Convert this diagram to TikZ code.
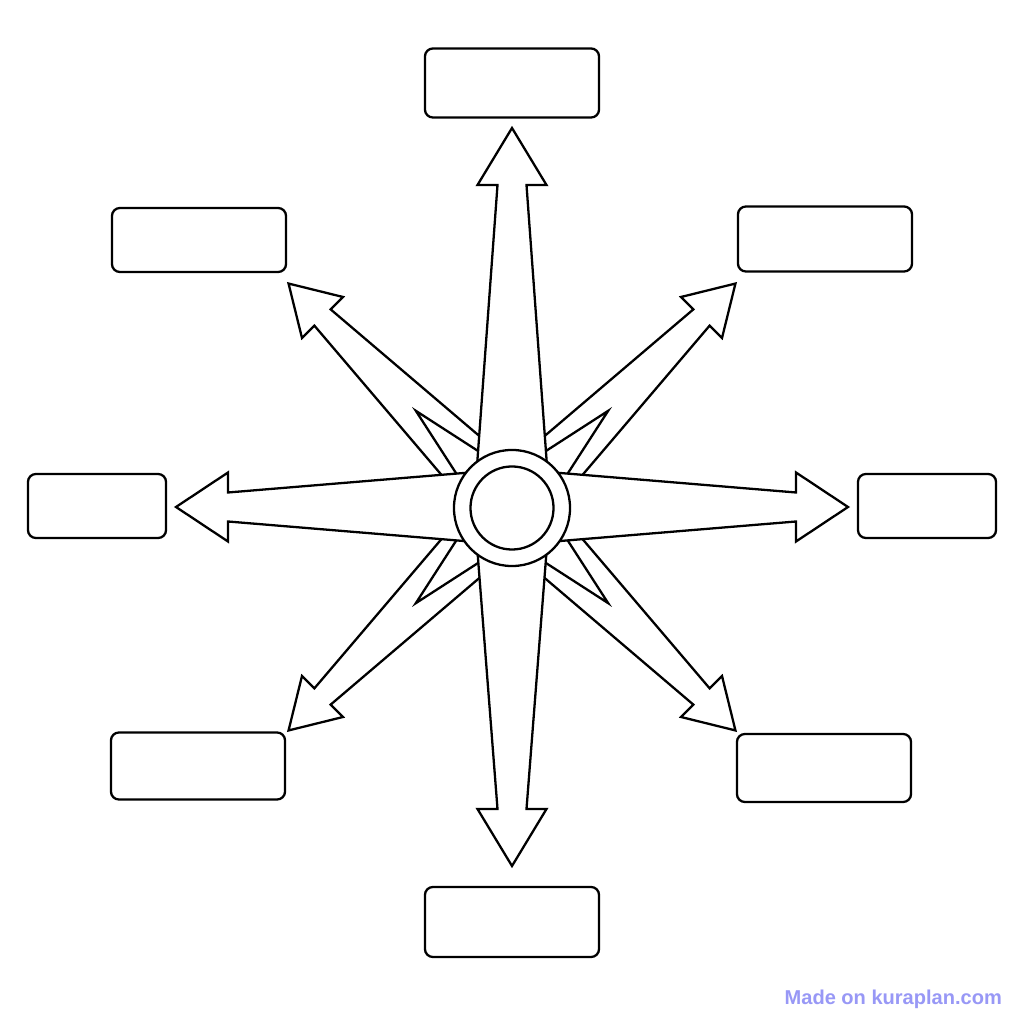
\documentclass[tikz,border=0pt]{standalone}
\usepackage{fontspec}
\setmainfont{Liberation Sans}
\definecolor{markblue}{RGB}{152,152,246}

\begin{document}
\begin{tikzpicture}[x=0.01cm, y=0.01cm, line width=0.65pt,
  box/.style={draw, rectangle, rounded corners=0.08cm, minimum width=1.74cm, minimum height=0.66cm, inner sep=0pt},
  sidebox/.style={box, minimum width=1.38cm, minimum height=0.64cm},
  mainray/.style={draw, fill=white, line join=miter},
  diagray/.style={draw, fill=white, line join=miter}]
  \fill[white] (0,0) rectangle (1024,1024);
  \useasboundingbox (0,0) rectangle (1024,1024);

  % Boxes
  \coordinate (Hub) at (512,517);
  \node[box, minimum height=0.69cm] (North) at (512,941) {};
  \node[box, minimum height=0.70cm] (South) at (512,102) {};
  \node[sidebox] (West) at (97,518) {};
  \node[sidebox] (East) at (927,518) {};
  \node[box, minimum height=0.64cm] (NorthWest) at (199,784) {};
  \node[box, minimum height=0.65cm] (NorthEast) at (825,785) {};
  \node[box, minimum height=0.67cm] (SouthWest) at (198,258) {};
  \node[box, minimum height=0.68cm] (SouthEast) at (824,256) {};

  % Diagonal arrows
  \foreach \ang in {45,135,225,315} {
    \draw[diagray, shift={(Hub)}, rotate=\ang] (0,33) -- (268,11.5) -- (268,29) -- (316,0) -- (268,-29) -- (268,-11.5) -- (0,-33) -- cycle;
    \draw[diagray, shift={(Hub)}, rotate=\ang] (20,25) -- (136,0) -- (20,-25);
  }

  % Main arrows
  \foreach \ang/\base/\tip in {0/284/336, 180/284/336, 90/322/379, 270/302/359}
    \draw[mainray, shift={(Hub)}, rotate=\ang] (0,38) -- (\base,14.5) -- (\base,34.5) -- (\tip,0) -- (\base,-34.5) -- (\base,-14.5) -- (0,-38) -- cycle;

  % Hub rings
  \node[draw, circle, fill=white, minimum size=1.16cm, inner sep=0pt] (Ring) at (512,516) {};
  \node[draw, circle, minimum size=0.83cm, inner sep=0pt] (Core) at (Ring) {};

  \node[anchor=base east, text=markblue, font=\bfseries\fontsize{5.7}{7}\selectfont, inner sep=0pt] (Credit) at (1003,19) {Made on kuraplan.com};
\end{tikzpicture}
\end{document}
